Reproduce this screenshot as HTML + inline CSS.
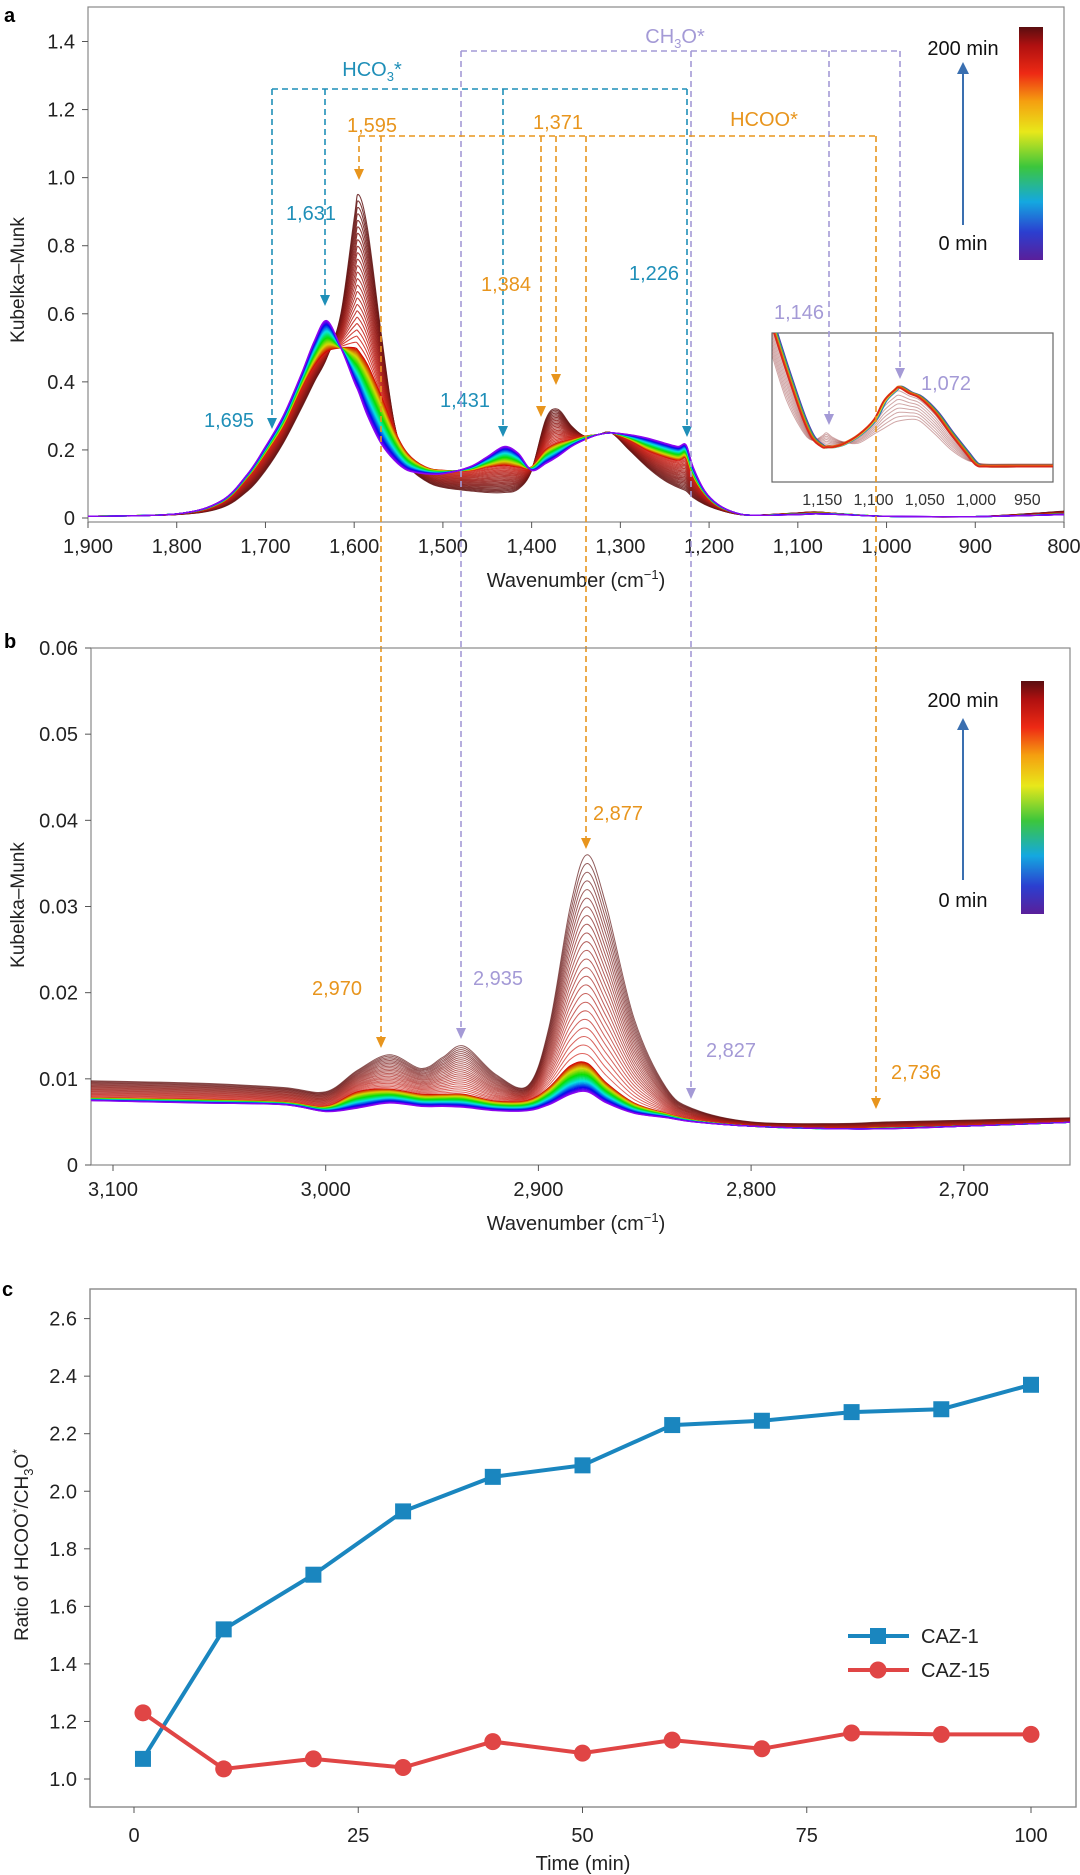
<!DOCTYPE html>
<html><head><meta charset="utf-8"><style>
html,body{margin:0;padding:0;background:#fff;}
svg{display:block;font-family:"Liberation Sans Narrow","Liberation Sans",sans-serif;}
</style></head><body>
<svg id="fig" width="1080" height="1875" viewBox="0 0 1080 1875" xmlns="http://www.w3.org/2000/svg"></svg>
<script>
// ---------- Panel a data ----------
const aGrid=[1900,1800,1750,1720,1700,1680,1660,1645,1631,1615,1600,1595,1585,1570,1555,1540,1520,1500,1470,1450,1431,1415,1400,1384,1371,1355,1340,1325,1310,1290,1270,1250,1235,1226,1218,1205,1190,1170,1150,1100,1080,1050,1000,900,800];
const aStart=[.005,.012,.05,.13,.21,.3,.42,.52,.58,.5,.4,.37,.3,.22,.17,.14,.13,.13,.15,.18,.21,.19,.14,.16,.18,.21,.23,.245,.25,.245,.235,.22,.21,.215,.15,.08,.04,.015,.008,.01,.012,.01,.005,.004,.01];
const aMid=[.005,.012,.045,.12,.19,.27,.38,.45,.49,.5,.5,.49,.45,.36,.26,.19,.15,.14,.14,.15,.155,.15,.15,.2,.22,.23,.24,.245,.25,.23,.2,.18,.17,.175,.12,.07,.035,.015,.008,.012,.014,.012,.005,.004,.012];
const aEnd=[.005,.01,.03,.08,.14,.22,.32,.4,.47,.6,.88,.95,.85,.55,.28,.16,.11,.09,.08,.075,.075,.085,.14,.29,.32,.27,.24,.245,.25,.2,.15,.11,.09,.08,.06,.04,.025,.012,.008,.015,.018,.012,.005,.004,.02];
const aYTicks=[0,0.2,0.4,0.6,0.8,1.0,1.2,1.4];
const aXTicks=[1900,1800,1700,1600,1500,1400,1300,1200,1100,1000,900,800];
// inset
const inGrid=[1199,1185,1170,1160,1150,1146,1140,1130,1115,1100,1090,1080,1075,1065,1055,1040,1025,1010,1000,990,960,925];
const inRed=[1.05,.75,.45,.3,.24,.24,.24,.26,.32,.42,.55,.62,.64,.6,.57,.47,.33,.2,.12,.11,.11,.11];
const inBrown=[.85,.55,.35,.28,.31,.33,.3,.27,.26,.32,.36,.4,.41,.42,.41,.32,.22,.15,.13,.12,.12,.12];
const inXTicks=[1150,1100,1050,1000,950];
// ---------- Panel b data ----------
const bGrid=[3115,3060,3020,3000,2985,2970,2955,2945,2935,2920,2905,2895,2885,2877,2868,2855,2840,2827,2800,2760,2736,2700,2645];
const bStart=[.0075,.0072,.007,.0062,.0066,.0072,.0068,.0068,.0067,.0063,.0063,.007,.0082,.0085,.0072,.006,.0055,.005,.0045,.0042,.0042,.0045,.005];
const bMid=[.0078,.0076,.0073,.0068,.0085,.0088,.0082,.0082,.0082,.0074,.0075,.009,.0115,.0118,.0095,.0072,.006,.0052,.0045,.0042,.0043,.0045,.005];
const bEnd=[.0098,.0095,.009,.0085,.011,.0128,.0112,.0125,.0138,.0105,.0092,.016,.03,.036,.03,.017,.009,.0065,.005,.0048,.005,.0052,.0055];
const bYTicks=[0,0.01,0.02,0.03,0.04,0.05,0.06];
const bXTicks=[3100,3000,2900,2800,2700];
// ---------- Panel c data ----------
const cTimes=[1,10,20,30,40,50,60,70,80,90,100];
const caz1=[1.07,1.52,1.71,1.93,2.05,2.09,2.23,2.245,2.275,2.285,2.37];
const caz15=[1.23,1.035,1.07,1.04,1.13,1.09,1.135,1.105,1.16,1.155,1.155];
const cYTicks=[1.0,1.2,1.4,1.6,1.8,2.0,2.2,2.4,2.6];
const cXTicks=[0,25,50,75,100];

const NS="http://www.w3.org/2000/svg";
const svg=document.getElementById('fig');
function el(tag,attrs,parent){const e=document.createElementNS(NS,tag);for(const k in attrs)e.setAttribute(k,attrs[k]);(parent||svg).appendChild(e);return e;}
function txt(x,y,s,size,fill,anchor,parent){const t=el('text',{x:x,y:y,'font-size':size,fill:fill||'#222','text-anchor':anchor||'middle'},parent);t.textContent=s;return t;}
function fmt(v){return v>=1000?Math.floor(v/1000)+','+String(v%1000).padStart(3,'0'):String(v);}
function smooth(pts){let d='M'+pts[0][0].toFixed(1)+','+pts[0][1].toFixed(1);for(let i=0;i<pts.length-1;i++){const p0=pts[i-1]||pts[i],p1=pts[i],p2=pts[i+1],p3=pts[i+2]||p2;const c1=[p1[0]+(p2[0]-p0[0])/6,p1[1]+(p2[1]-p0[1])/6],c2=[p2[0]-(p3[0]-p1[0])/6,p2[1]-(p3[1]-p1[1])/6];d+='C'+c1[0].toFixed(1)+','+c1[1].toFixed(1)+' '+c2[0].toFixed(1)+','+c2[1].toFixed(1)+' '+p2[0].toFixed(1)+','+p2[1].toFixed(1);}return d;}
function rainbow(t){return 'hsl('+(275-275*t)+',95%,'+(48-6*t)+'%)';}
function brown(u,a){const r=Math.round(215-120*u),g=Math.round(35-15*u),b=Math.round(25-5*u);return 'rgba('+r+','+g+','+b+','+a+')';}
function arrowDown(x,y,color,parent){el('path',{d:`M${x-5},${y-11}L${x+5},${y-11}L${x},${y}Z`,fill:color},parent);}
function dash(x1,y1,x2,y2,color,parent){el('line',{x1:x1,y1:y1,x2:x2,y2:y2,stroke:color,'stroke-width':1.6,'stroke-dasharray':'6,4'},parent);}

// ================= PANEL A =================
const ax=v=>88+(1900-v)*(1064-88)/1100;
const ay=v=>518-v*(518-41.5)/1.4;
const gA=el('g',{});  
txt(4,22,'a',20,'#000','start',gA).setAttribute('font-weight','bold');
el('rect',{x:88,y:7,width:976,height:515,fill:'none',stroke:'#888','stroke-width':1.2},gA);
aYTicks.forEach(v=>{el('line',{x1:82,x2:88,y1:ay(v),y2:ay(v),stroke:'#555'},gA);txt(75,ay(v)+7,v===0?'0':v.toFixed(1),20,'#222','end',gA);});
aXTicks.forEach(v=>{el('line',{x1:ax(v),x2:ax(v),y1:522,y2:528,stroke:'#555'},gA);txt(ax(v),553,fmt(v),20,'#222','middle',gA);});
const aXT=txt(576,587,'Wavenumber (cm',20,'#222','middle',gA);
const sup1=el('tspan',{dy:-8,'font-size':13},aXT);sup1.textContent='−1';const sup1b=el('tspan',{dy:8},aXT);sup1b.textContent=')';
const aYT=txt(0,0,'Kubelka–Munk',19,'#222','middle',gA);aYT.setAttribute('transform','translate(24,280) rotate(-90)');
const NR=30,NB=24;
const gAc=el('g',{},gA);
for(let i=NB;i>=1;i--){const u=i/NB;const pts=aGrid.map((w,k)=>[ax(w),ay(aMid[k]*(1-u)+aEnd[k]*u)]);const p=el('path',{d:smooth(pts),fill:'none',stroke:brown(u,0.85),'stroke-width':1.1},gAc);}
for(let i=NR;i>=0;i--){const t=i/NR;const pts=aGrid.map((w,k)=>[ax(w),ay(aStart[k]*(1-t)+aMid[k]*t)]);const p=el('path',{d:smooth(pts),fill:'none',stroke:rainbow(t),'stroke-width':1.3},gAc);}
// inset
const ix=v=>772+(1199-v)*(1053-772)/274;
const iy=v=>482-v*149;
const gI=el('g',{},gA);
el('rect',{x:772,y:333,width:281,height:149,fill:'#fff',stroke:'#666','stroke-width':1.2},gI);
el('clipPath',{id:'ic'},gI);el('rect',{x:772,y:333,width:281,height:149},document.getElementById('ic'));
const gIc=el('g',{'clip-path':'url(#ic)'},gI);
for(let i=8;i>=1;i--){const u=i/8;const pts=inGrid.map((w,k)=>[ix(w),iy(inRed[k]*(1-u)+inBrown[k]*u)]);el('path',{d:smooth(pts),fill:'none',stroke:'rgba(150,60,60,0.45)','stroke-width':1},gIc);}
['#4b3bb0','#1e88c8','#3bb34a','#e6d21a','#e8620f','#d8281b'].forEach((c,j)=>{const pts=inGrid.map((w,k)=>[ix(w)+(5-j)*0.6,iy(inRed[k])+(j%2)*1]);el('path',{d:smooth(pts),fill:'none',stroke:c,'stroke-width':1.8},gIc);});
inXTicks.forEach(v=>{txt(ix(v),505,fmt(v),16,'#333','middle',gI);});
// colorbar a
function colorbar(x,y,w,h,idn){const g=el('defs',{});const lg=el('linearGradient',{id:idn,x1:0,y1:1,x2:0,y2:0},g);
 [['0','#5a1f9a'],['0.12','#2b3fd0'],['0.25','#14a8e0'],['0.4','#3cc63c'],['0.55','#e8e81a'],['0.68','#f5a010'],['0.8','#ee2a14'],['0.92','#b01010'],['1','#5a0e10']].forEach(s=>el('stop',{offset:s[0],'stop-color':s[1]},lg));
 const r=el('rect',{x:x,y:y,width:w,height:h,fill:'url(#'+idn+')'});}
colorbar(1019,27,24,233,'cbA');
txt(963,55,'200 min',20,'#111','middle',gA);txt(963,250,'0 min',20,'#111','middle',gA);
el('line',{x1:963,y1:225,x2:963,y2:72,stroke:'#3a6fb0','stroke-width':2},gA);el('path',{d:'M957,74L969,74L963,62Z',fill:'#3a6fb0'},gA);
// annotations a
const BL='#1f8fb8',OR='#e8951d',LV='#a49ad6';
const gAn=el('g',{});
// HCO3
dash(272,89,687,89,BL,gAn);
[[272,429],[325,306],[503,437],[687,437]].forEach(p=>{dash(p[0],89,p[0],p[1]-10,BL,gAn);arrowDown(p[0],p[1],BL,gAn);});
const h3=txt(372,76,'HCO',20,BL,'middle',gAn);const h3s=el('tspan',{dy:5,'font-size':13},h3);h3s.textContent='3';const h3b=el('tspan',{dy:-5},h3);h3b.textContent='*';
txt(229,427,'1,695',20,BL,'middle',gAn);txt(311,220,'1,631',20,BL,'middle',gAn);txt(465,407,'1,431',20,BL,'middle',gAn);txt(654,280,'1,226',20,BL,'middle',gAn);
// CH3O
dash(461,51,900,51,LV,gAn);
dash(461,51,461,1028,LV,gAn);arrowDown(461,1039,LV,gAn);
dash(691,51,691,1088,LV,gAn);arrowDown(691,1099,LV,gAn);
dash(829,51,829,414,LV,gAn);arrowDown(829,425,LV,gAn);
dash(900,51,900,368,LV,gAn);arrowDown(900,379,LV,gAn);
const c3=txt(675,43,'CH',20,LV,'middle',gAn);const c3s=el('tspan',{dy:5,'font-size':13},c3);c3s.textContent='3';const c3b=el('tspan',{dy:-5},c3);c3b.textContent='O*';
txt(799,319,'1,146',20,LV,'middle',gAn);txt(946,390,'1,072',20,LV,'middle',gAn);
// HCOO
dash(359,136,876,136,OR,gAn);
dash(359,136,359,169,OR,gAn);arrowDown(359,180,OR,gAn);
dash(381,136,381,1037,OR,gAn);arrowDown(381,1048,OR,gAn);
dash(541,136,541,406,OR,gAn);arrowDown(541,417,OR,gAn);
dash(556,136,556,374,OR,gAn);arrowDown(556,385,OR,gAn);
dash(586,136,586,838,OR,gAn);arrowDown(586,849,OR,gAn);
dash(876,136,876,1098,OR,gAn);arrowDown(876,1109,OR,gAn);
txt(372,132,'1,595',20,OR,'middle',gAn);txt(558,129,'1,371',20,OR,'middle',gAn);txt(764,126,'HCOO*',20,OR,'middle',gAn);txt(506,291,'1,384',20,OR,'middle',gAn);

// ================= PANEL B =================
const bx=v=>113+(3100-v)*2.127;
const by=v=>1165-v*(1165-648)/0.06;
const gB=el('g',{});
txt(4,648,'b',20,'#000','start',gB).setAttribute('font-weight','bold');
el('rect',{x:91,y:648,width:979,height:517,fill:'none',stroke:'#888','stroke-width':1.2},gB);
bYTicks.forEach(v=>{el('line',{x1:85,x2:91,y1:by(v),y2:by(v),stroke:'#555'},gB);txt(78,by(v)+7,v===0?'0':v.toFixed(2),20,'#222','end',gB);});
bXTicks.forEach(v=>{el('line',{x1:bx(v),x2:bx(v),y1:1165,y2:1171,stroke:'#555'},gB);txt(bx(v),1196,fmt(v),20,'#222','middle',gB);});
const bXT=txt(576,1230,'Wavenumber (cm',20,'#222','middle',gB);const s2=el('tspan',{dy:-8,'font-size':13},bXT);s2.textContent='−1';const s2b=el('tspan',{dy:8},bXT);s2b.textContent=')';
const bYT=txt(0,0,'Kubelka–Munk',19,'#222','middle',gB);bYT.setAttribute('transform','translate(24,905) rotate(-90)');
el('clipPath',{id:'bc'},gB);el('rect',{x:91,y:648,width:979,height:517},document.getElementById('bc'));
const gBc=el('g',{'clip-path':'url(#bc)'},gB);
for(let i=NB;i>=1;i--){const u=i/NB;const pts=bGrid.map((w,k)=>[bx(w),by(bMid[k]*(1-u)+bEnd[k]*u)]);const p=el('path',{d:smooth(pts),fill:'none',stroke:brown(u,0.7),'stroke-width':1},gBc);}
for(let i=NR;i>=0;i--){const t=i/NR;const pts=bGrid.map((w,k)=>[bx(w),by(bStart[k]*(1-t)+bMid[k]*t)]);const p=el('path',{d:smooth(pts),fill:'none',stroke:rainbow(t),'stroke-width':1.2},gBc);}
colorbar(1021,681,23,233,'cbB');
txt(963,707,'200 min',20,'#111','middle',gB);txt(963,907,'0 min',20,'#111','middle',gB);
el('line',{x1:963,y1:880,x2:963,y2:728,stroke:'#3a6fb0','stroke-width':2},gB);el('path',{d:'M957,730L969,730L963,718Z',fill:'#3a6fb0'},gB);
txt(337,995,'2,970',20,OR,'middle',gB);txt(498,985,'2,935',20,LV,'middle',gB);txt(618,820,'2,877',20,OR,'middle',gB);txt(731,1057,'2,827',20,LV,'middle',gB);txt(916,1079,'2,736',20,OR,'middle',gB);

// ================= PANEL C =================
const cx=v=>134+v*(1031-134)/100;
const cy=v=>1779-(v-1.0)*(1779-1318.6)/1.6;
const gC=el('g',{});
txt(2,1296,'c',20,'#000','start',gC).setAttribute('font-weight','bold');
el('rect',{x:90,y:1289,width:986,height:518,fill:'none',stroke:'#888','stroke-width':1.4},gC);
cYTicks.forEach(v=>{el('line',{x1:84,x2:90,y1:cy(v),y2:cy(v),stroke:'#555'},gC);txt(77,cy(v)+7,v.toFixed(1),20,'#222','end',gC);});
cXTicks.forEach(v=>{el('line',{x1:cx(v),x2:cx(v),y1:1807,y2:1813,stroke:'#555'},gC);txt(cx(v),1842,String(v),20,'#222','middle',gC);});
txt(583,1870,'Time (min)',20,'#222','middle',gC);
const cYT=txt(0,0,'Ratio of HCOO',19,'#222','middle',gC);cYT.setAttribute('transform','translate(28,1545) rotate(-90)');
[['*',-7,12],['/CH',7,19],['3',5,13],['O',-5,19],['*',-7,12]].forEach(p=>{const ts=el('tspan',{dy:p[1],'font-size':p[2]},cYT);ts.textContent=p[0];});
const l1=el('polyline',{points:cTimes.map((t,i)=>cx(t)+','+cy(caz1[i])).join(' '),fill:'none',stroke:'#1a86bf','stroke-width':4},gC);

const l2=el('polyline',{points:cTimes.map((t,i)=>cx(t)+','+cy(caz15[i])).join(' '),fill:'none',stroke:'#e04545','stroke-width':4},gC);

cTimes.forEach((t,i)=>{const r=el('rect',{x:cx(t)-8,y:cy(caz1[i])-8,width:16,height:16,fill:'#1a86bf'},gC);
 const c=el('circle',{cx:cx(t),cy:cy(caz15[i]),r:8.5,fill:'#e04545'},gC);});
const lg1=el('g',{},gC);
el('line',{x1:848,x2:909,y1:1636,y2:1636,stroke:'#1a86bf','stroke-width':4},lg1);el('rect',{x:870,y:1628,width:16,height:16,fill:'#1a86bf'},lg1);txt(921,1643,'CAZ-1',20,'#222','start',lg1);
const lg2=el('g',{},gC);
el('line',{x1:848,x2:909,y1:1670,y2:1670,stroke:'#e04545','stroke-width':4},lg2);el('circle',{cx:878,cy:1670,r:8.5,fill:'#e04545'},lg2);txt(921,1677,'CAZ-15',20,'#222','start',lg2);
</script>
</body></html>
